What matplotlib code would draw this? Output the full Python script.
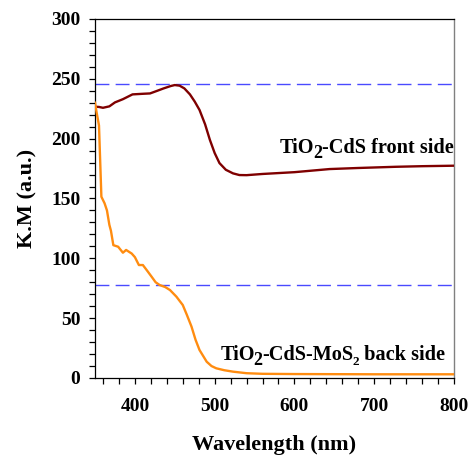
import matplotlib
matplotlib.use("Agg")
import matplotlib.pyplot as plt
from matplotlib.ticker import MultipleLocator

plt.rcParams['font.family'] = ['Liberation Serif', 'DejaVu Serif']
plt.rcParams['font.weight'] = 'bold'

# TiO2-CdS front side
wl_front = [350, 355, 360, 368, 375, 385, 397, 410, 419, 428, 436, 445, 450, 456,
            462, 469, 475, 481, 488, 494, 500, 506, 514, 523, 531, 540, 560, 600,
            644, 680, 727, 760, 800]
km_front = [226.7, 226.5, 225.8, 227, 230.3, 233, 237, 237.5, 237.8, 240, 242, 244, 244.8, 244.3,
            242, 237, 231, 224, 212, 199, 188, 179.6, 174, 171, 169.6, 169.5, 170.5, 172,
            174.6, 175.5, 176.5, 177, 177.4]

# TiO2-CdS-MoS2 back side
wl_back = [350, 352, 355, 358, 362, 365, 368, 370, 373, 379, 385, 389, 396, 400, 405,
           410, 415, 421, 426, 431, 438, 444, 452, 460, 465, 471, 476, 481, 490, 496,
           502, 512, 523, 540, 560, 600, 700, 800]
km_back = [230, 222, 211, 151.5, 146, 140, 128, 123, 111, 109.7, 104.7, 107, 104, 101, 94.4,
           94.4, 90, 84.6, 80, 77.7, 76, 73.5, 68, 61, 53, 42.9, 32, 23.4, 13.6, 10,
           8.1, 6.5, 5.3, 4, 3.5, 3.3, 3.1, 3.1]

ref_levels = [245.5, 78]

fig = plt.figure(figsize=(4.71, 4.57), dpi=100)
ax = fig.add_axes([95/471, 1-378/457, (454-95)/471, (378-19)/457])

for lv in ref_levels:
    ax.axhline(lv, color='#4a4aff', lw=1.0, dashes=(10, 4.5), zorder=1)

ax.plot(wl_front, km_front, color='#7f0000', lw=1.7, zorder=3)
ax.plot(wl_back, km_back, color='#ff8c10', lw=1.7, zorder=3)

ax.set_xlim(350, 800)
ax.set_ylim(0, 300)
ax.xaxis.set_major_locator(MultipleLocator(100))
ax.xaxis.set_minor_locator(MultipleLocator(20))
ax.yaxis.set_major_locator(MultipleLocator(50))
ax.yaxis.set_minor_locator(MultipleLocator(10))
ax.tick_params(which='both', direction='out', length=4.5, width=0.9, top=False, right=False)
ax.tick_params(axis='x', which='major', pad=10, labelsize=14)
ax.tick_params(axis='y', which='major', pad=6, labelsize=14)
for lab in ax.get_xticklabels() + ax.get_yticklabels():
    lab.set_fontweight('bold')

for s in ['left', 'bottom', 'top']:
    ax.spines[s].set_linewidth(0.9)
    ax.spines[s].set_color('black')
ax.spines['right'].set_color('#808080')
ax.spines['right'].set_linewidth(1.0)

ax.set_xlabel('Wavelength (nm)', fontsize=16, fontweight='bold', labelpad=14)
ax.set_ylabel('K.M (a.u.)', fontsize=16, fontweight='bold', labelpad=10)

FS = 14.6
# upper label
t = ax.text(582, 188, 'TiO', fontsize=FS, fontweight='bold', ha='left', va='baseline')
t2 = ax.annotate('2', xy=(1, 0), xycoords=t, xytext=(-1, -3), textcoords='offset points',
                 fontsize=13, fontweight='bold', ha='left', va='bottom')
ax.annotate('-CdS front side', xy=(1, 0), xycoords=t2, xytext=(0, 3), textcoords='offset points',
            fontsize=FS, fontweight='bold', ha='left', va='bottom')

# lower label
b = ax.text(507, 15, 'TiO', fontsize=FS, fontweight='bold', ha='left', va='baseline')
b2 = ax.annotate('2', xy=(1, 0), xycoords=b, xytext=(-1, -3), textcoords='offset points',
                 fontsize=13, fontweight='bold', ha='left', va='bottom')
b3 = ax.annotate('-CdS-MoS', xy=(1, 0), xycoords=b2, xytext=(0, 3), textcoords='offset points',
                 fontsize=FS, fontweight='bold', ha='left', va='bottom')
b4 = ax.annotate('2', xy=(1, 0), xycoords=b3, xytext=(-0.6, -2), textcoords='offset points',
                 fontsize=9.5, fontweight='bold', ha='left', va='bottom')
ax.annotate(' back side', xy=(1, 0), xycoords=b4, xytext=(0, 2), textcoords='offset points',
            fontsize=FS, fontweight='bold', ha='left', va='bottom')

fig.savefig('out.png', dpi=100)
